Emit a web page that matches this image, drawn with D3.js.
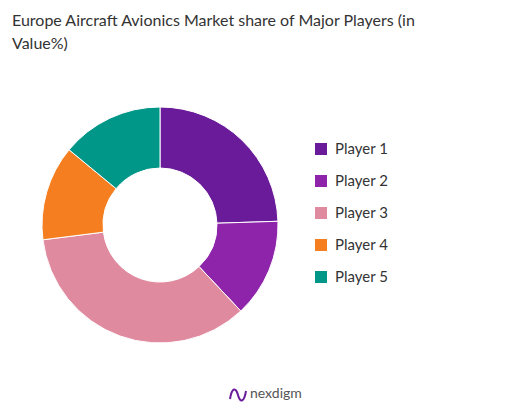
<!DOCTYPE html>
<html><head><meta charset="utf-8">
<script src="https://cdn.jsdelivr.net/npm/d3@7"></script>
<style>body{margin:0;background:#fff;font-family:Lato,"Open Sans",sans-serif}</style>
</head><body><div id="chart"></div>
<script>
const players = ['Player 1', 'Player 2', 'Player 3', 'Player 4', 'Player 5'];
const shares = [24.5, 13.5, 35, 13, 14];
const colors = ['#6a1b9a', '#8e24aa', '#e08aa0', '#f57f20', '#009688'];

const width = 524, height = 413;
const svg = d3.select('#chart').append('svg')
  .attr('width', width).attr('height', height);

svg.append('text').attr('x', 12).attr('y', 26)
  .attr('font-size', 16).attr('fill', '#333')
  .text('Europe Aircraft Avionics Market share of Major Players (in');
svg.append('text').attr('x', 12).attr('y', 49)
  .attr('font-size', 16).attr('fill', '#333')
  .text('Value%)');

const pie = d3.pie().sort(null).value(d => d);
const arc = d3.arc().innerRadius(57).outerRadius(118);
const color = d3.scaleOrdinal().domain(players).range(colors);

svg.append('g').attr('transform', 'translate(160,225)')
  .selectAll('path')
  .data(pie(shares))
  .join('path')
  .attr('d', arc)
  .attr('fill', (d, i) => color(players[i]))
  .attr('stroke', '#fff').attr('stroke-width', 1);

const legend = svg.append('g').attr('transform', 'translate(315,149)');
const y = d3.scalePoint().domain(players).range([0, 128]);
legend.selectAll('rect').data(players).join('rect')
  .attr('x', 0).attr('y', d => y(d) - 6).attr('width', 12).attr('height', 12)
  .attr('fill', d => color(d));
legend.selectAll('text').data(players).join('text')
  .attr('x', 20).attr('y', d => y(d) + 5)
  .attr('font-size', 15).attr('fill', '#333')
  .text(d => d);

const logo = svg.append('g').attr('transform', 'translate(230,393)');
logo.append('path').attr('d', 'M0,6 C2,-6 6,-6 8,2 C10,10 14,10 16,-2')
  .attr('fill', 'none').attr('stroke', '#6a1b9a').attr('stroke-width', 2);
logo.append('text').attr('x', 20).attr('y', 5)
  .attr('font-size', 14).attr('fill', '#555').text('nexdigm');
</script></body></html>
